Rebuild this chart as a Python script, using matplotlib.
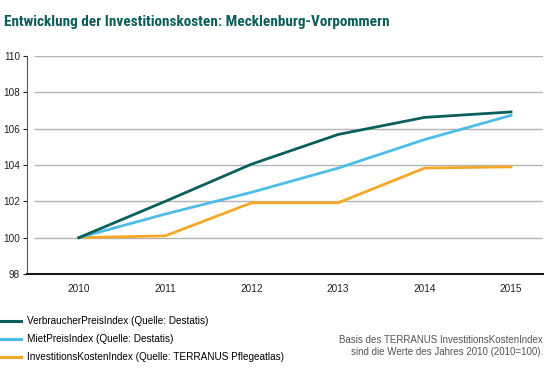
import matplotlib.pyplot as plt
from matplotlib.lines import Line2D

plt.rcParams['font.family'] = ['Liberation Sans', 'DejaVu Sans']

years = ['2010', '2011', '2012', '2013', '2014', '2015']
vpi = [100.0, 102.0, 104.05, 105.68, 106.62, 106.92]
mpi = [100.0, 101.3, 102.5, 103.83, 105.4, 106.73]
iki = [100.0, 100.1, 101.92, 101.92, 103.83, 103.9]
yticks = [98, 100, 102, 104, 106, 108, 110]

c_vpi = '#0b5f5b'
c_mpi = '#4dbde6'
c_iki = '#f6a829'
title_col = '#0d5d59'

fig = plt.figure(figsize=(5.45, 3.75), dpi=100)
ax = fig.add_axes([27 / 545, 1 - 274 / 375, 516 / 545, 218 / 375])

x = range(len(years))
for yv in yticks[1:]:
    ax.axhline(yv, xmin=8 / 516, xmax=1, color='#b4b4b4', lw=1, zorder=1)

ax.plot(x, vpi, color=c_vpi, lw=2.0, zorder=4)
ax.plot(x, mpi, color=c_mpi, lw=2.0, zorder=3)
ax.plot(x, iki, color=c_iki, lw=2.0, zorder=2)

ax.set_xlim(-0.6, 5.37)
ax.set_ylim(98, 110)
ax.set_yticks(yticks)
ax.set_xticks(list(x))
ax.set_xticklabels(years)
ax.tick_params(axis='x', length=0, pad=7, labelsize=7.2, colors='#222222')
ax.tick_params(axis='y', length=3, width=0.8, pad=2, labelsize=7.2, colors='#222222')
ax.spines['top'].set_visible(False)
ax.spines['right'].set_visible(False)
ax.spines['left'].set_color('#555555')
ax.spines['left'].set_linewidth(0.8)
ax.spines['bottom'].set_color('#111111')
ax.spines['bottom'].set_linewidth(1.4)
ax.set_facecolor('none')

fig.text(4 / 545, 1 - 22 / 375, 'Entwicklung der Investitionskosten: Mecklenburg-Vorpommern',
         fontsize=11, fontweight='bold', color=title_col, va='center', ha='left',
         family=['Roboto Condensed', 'Liberation Sans'])

handles = [Line2D([], [], color=c_vpi, lw=2.2),
           Line2D([], [], color=c_mpi, lw=2.2),
           Line2D([], [], color=c_iki, lw=2.2)]
labels = ['VerbraucherPreisIndex (Quelle: Destatis)',
          'MietPreisIndex (Quelle: Destatis)',
          'InvestitionsKostenIndex (Quelle: TERRANUS Pflegeatlas)']
fig.legend(handles, labels, loc='upper left', bbox_to_anchor=(-0.006, 1 - 312 / 375),
           frameon=False, fontsize=7.2, handlelength=2.05, handletextpad=0.55,
           labelspacing=0.8, borderaxespad=0)

fig.text(543 / 545, 1 - 346 / 375,
         'Basis des TERRANUS InvestitionsKostenIndex\nsind die Werte des Jahres 2010 (2010=100).',
         fontsize=7.0, color='#555555', ha='right', va='center', multialignment='right',
         linespacing=1.15)

fig.savefig('out.png', dpi=100)
